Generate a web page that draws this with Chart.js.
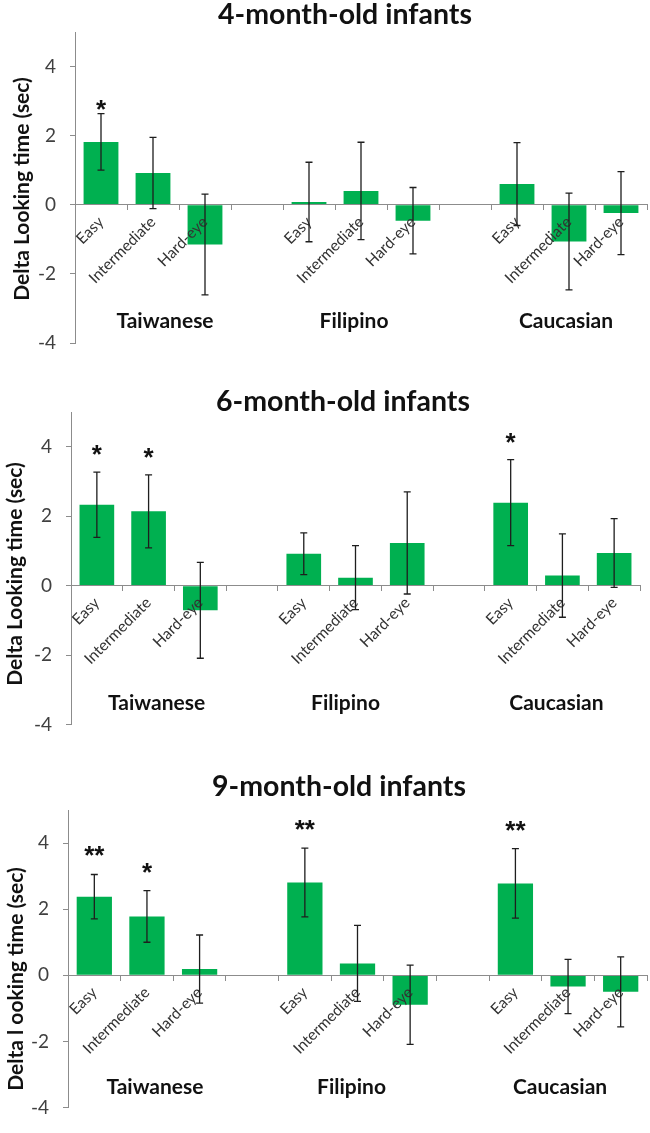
<!DOCTYPE html>
<html><head><meta charset="utf-8">
<script src="https://cdn.jsdelivr.net/npm/chart.js@4.4.1/dist/chart.umd.min.js"></script>
<style>
body{margin:0;background:#fff;}
.p{position:relative;width:650px;}
canvas{display:block;}
</style>
</head><body>
<div class="p" style="height:370px"><canvas id="c1"></canvas></div>
<div class="p" style="height:380px"><canvas id="c2"></canvas></div>
<div class="p" style="height:383px"><canvas id="c3"></canvas></div>
<script>
// ---- data ----
const categories = ['Easy','Intermediate','Hard-eye','','Easy','Intermediate','Hard-eye','','Easy','Intermediate','Hard-eye'];
const groups = ['Taiwanese','Filipino','Caucasian'];
const groupMid = [1,5,9];
const yTicks = [-4,-2,0,2,4];

const titles = ['4-month-old infants','6-month-old infants','9-month-old infants'];
const yTitles = ['Delta Looking time (sec)','Delta Looking time (sec)','Delta l ooking time (sec)'];

const means4 = [1.82, 0.92, -1.15, null, 0.08, 0.40, -0.46, null, 0.60, -1.06, -0.24];
const errs4  = [0.82, 1.03, 1.46, null, 1.15, 1.41, 0.96, null, 1.20, 1.40, 1.20];
const sigs4  = ['*','','','','','','','','','',''];

const means6 = [2.33, 2.14, -0.71, null, 0.92, 0.23, 1.23, null, 2.39, 0.29, 0.94];
const errs6  = [0.94, 1.05, 1.38, null, 0.60, 0.92, 1.47, null, 1.24, 1.20, 0.99];
const sigs6  = ['*','*','','','','','','','*','',''];

const means9 = [2.38, 1.78, 0.19, null, 2.81, 0.36, -0.89, null, 2.78, -0.34, -0.50];
const errs9  = [0.67, 0.78, 1.03, null, 1.04, 1.15, 1.20, null, 1.05, 0.82, 1.06];
const sigs9  = ['**','*','','','**','','','','**','',''];

// ---- styles ----
const FONT = 'Lato, "Open Sans", sans-serif';
const GREEN = '#00B050';
const AXIS = '#8c8c8c';

function makeChart(id, cfg) {
  const overlay = {
    id: 'overlay' + id,
    afterDraw(chart) {
      const ctx = chart.ctx;
      const x = chart.scales.x, y = chart.scales.y;
      const meta = chart.getDatasetMeta(0);
      ctx.save();
      // error bars
      ctx.strokeStyle = '#1e1e1e';
      ctx.lineWidth = 1.3;
      cfg.means.forEach((m, i) => {
        if (m === null) return;
        const bx = meta.data[i].x;
        const yt = y.getPixelForValue(m + cfg.errs[i]);
        const yb = y.getPixelForValue(m - cfg.errs[i]);
        ctx.beginPath();
        ctx.moveTo(bx, yt); ctx.lineTo(bx, yb);
        ctx.moveTo(bx - 3.5, yt); ctx.lineTo(bx + 3.5, yt);
        ctx.moveTo(bx - 3.5, yb); ctx.lineTo(bx + 3.5, yb);
        ctx.stroke();
      });
      // significance stars
      ctx.fillStyle = '#111';
      ctx.font = 'bold 26px "Liberation Sans", Arial, sans-serif';
      ctx.textAlign = 'center';
      ctx.textBaseline = 'alphabetic';
      cfg.sigs.forEach((s, i) => {
        if (!s) return;
        const bx = meta.data[i].x;
        const yt = y.getPixelForValue(cfg.means[i] + cfg.errs[i]);
        ctx.fillText(s, bx, yt - cfg.starGap + 15);
      });
      // group labels
      ctx.textBaseline = 'middle';
      ctx.font = 'bold 21px ' + FONT;
      ctx.fillStyle = '#111';
      groups.forEach((g, k) => {
        const gx = x.getPixelForValue(groupMid[k]) + cfg.groupShift[k];
        ctx.fillText(g, gx, y.getPixelForValue(-3.38));
      });
      // title
      ctx.font = 'bold 28.5px ' + FONT;
      ctx.fillText(cfg.title, cfg.titleX, cfg.titleY);
      // y-axis title
      ctx.save();
      ctx.translate(cfg.yTitleX, cfg.yTitleY);
      ctx.rotate(-Math.PI / 2);
      ctx.font = 'bold 21px ' + FONT;
      ctx.fillText(cfg.yTitle, 0, 0);
      ctx.restore();
      ctx.restore();
    }
  };

  return new Chart(document.getElementById(id), {
    type: 'bar',
    data: {
      labels: categories,
      datasets: [{
        data: cfg.means,
        backgroundColor: GREEN,
        borderWidth: 0,
        barPercentage: 0.67,
        categoryPercentage: 1.0
      }]
    },
    options: {
      responsive: true,
      maintainAspectRatio: false,
      animation: false,
      events: [],
      layout: { padding: { left: 0, right: 650 - cfg.area.right, top: cfg.area.top, bottom: cfg.h - cfg.area.bottom } },
      plugins: { legend: { display: false }, tooltip: { enabled: false }, title: { display: false } },
      scales: {
        x: {
          position: { y: 0 },
          grid: { display: true, drawOnChartArea: false, drawTicks: true, tickLength: 5, color: AXIS, offset: true, z: 1 },
          border: { display: true, color: AXIS, width: 1, z: 1 },
          ticks: {
            z: 1,
            autoSkip: false, minRotation: 45, maxRotation: 45, padding: 3,
            color: '#333', font: { family: FONT, size: 15.5 }
          }
        },
        y: {
          min: -4, max: 5,
          afterFit(s) { s.width = cfg.area.left; },
          afterBuildTicks(s) { s.ticks = yTicks.map(v => ({ value: v })); },
          grid: { display: true, drawOnChartArea: false, drawTicks: true, tickLength: 5, color: AXIS },
          border: { display: true, color: AXIS, width: 1 },
          ticks: { padding: 14, color: '#404040', font: { family: FONT, size: 19 } }
        }
      }
    },
    plugins: [overlay]
  });
}

makeChart('c1', { means: means4, errs: errs4, sigs: sigs4, title: titles[0], yTitle: yTitles[0],
  h: 370, area: { left: 75, right: 647, top: 32, bottom: 343 },
  titleX: 345, titleY: 15, yTitleX: 22, yTitleY: 189, starGap: 11, groupShift: [12, -7, -3] });
makeChart('c2', { means: means6, errs: errs6, sigs: sigs6, title: titles[1], yTitle: yTitles[1],
  h: 380, area: { left: 71, right: 640, top: 42, bottom: 366 },
  titleX: 343, titleY: 32, yTitleX: 15, yTitleY: 204, starGap: 24, groupShift: [8, -10, -6] });
makeChart('c3', { means: means9, errs: errs9, sigs: sigs9, title: titles[2], yTitle: yTitles[2],
  h: 383, area: { left: 68, right: 647, top: 60, bottom: 375 },
  titleX: 339, titleY: 37, yTitleX: 16, yTitleY: 229, starGap: 25, groupShift: [8, -6, -8] });
</script>
</body></html>
